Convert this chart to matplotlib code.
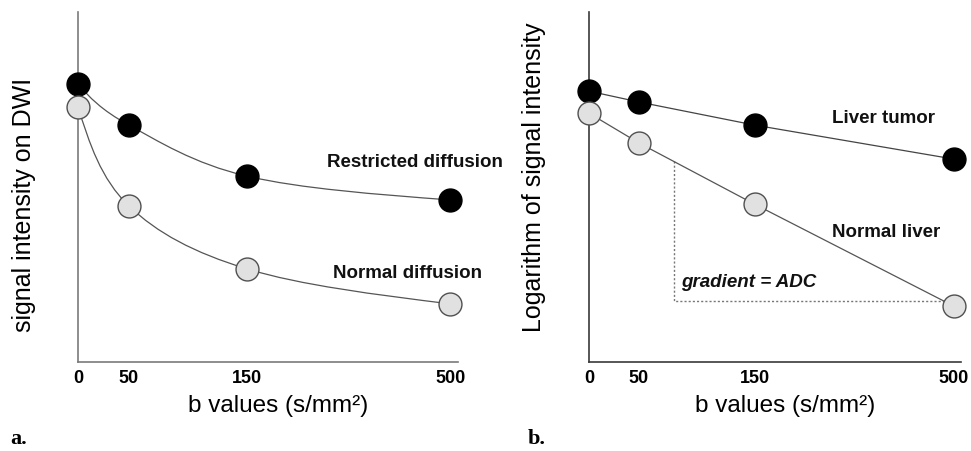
import numpy as np
import matplotlib
matplotlib.use('Agg')
import matplotlib.pyplot as plt
from matplotlib.path import Path
from matplotlib.patches import PathPatch

plt.rcParams['font.family'] = ['Liberation Sans', 'DejaVu Sans']

b_values = [0, 50, 150, 500]
b_labels = ['0', '50', '150', '500']

# a. signal intensity on DWI (arbitrary units)
restricted = [79.4, 67.7, 53.1, 46.3]
normal_diff = [72.9, 44.6, 26.6, 16.6]

# b. log of signal intensity (arbitrary units)
tumor = [77.4, 74.3, 67.7, 58.0]
normal_liver = [71.1, 62.6, 45.1, 16.0]

# corner of the dotted gradient triangle
adc_corner_b = 80

# the schematic spaces the b values unevenly
b_knots = [0, 50, 150, 500, 520]
pos_knots = [0, 0.134, 0.445, 0.98, 1.0]


def fwd(b):
    return np.interp(b, b_knots, pos_knots)


def inv(p):
    return np.interp(p, pos_knots, b_knots)


def smooth_line(ax, xs, ys, **kw):
    # Catmull-Rom style bezier through the points, built in scale space
    pts = np.column_stack([fwd(np.asarray(xs, float)), np.asarray(ys, float)])
    tang = np.zeros_like(pts)
    tang[1:-1] = (pts[2:] - pts[:-2]) / 2
    tang[0] = 1.5 * (pts[1] - pts[0]) - 0.5 * tang[1]
    tang[-1] = 1.5 * (pts[-1] - pts[-2]) - 0.5 * tang[-2]
    verts = [pts[0]]
    codes = [Path.MOVETO]
    for i in range(len(pts) - 1):
        verts += [pts[i] + tang[i] / 3, pts[i + 1] - tang[i + 1] / 3, pts[i + 1]]
        codes += [Path.CURVE4] * 3
    verts = np.array(verts)
    verts[:, 0] = inv(verts[:, 0])
    ax.add_patch(PathPatch(Path(verts, codes), fill=False, **kw))


fig = plt.figure(figsize=(9.71, 4.51), dpi=100)
ax_a = fig.add_axes([0.0803, 0.1973, 0.3914, 0.776])
ax_b = fig.add_axes([0.6066, 0.1973, 0.3831, 0.776])

for ax, spine_col in [(ax_a, '#7a7a7a'), (ax_b, '#3a3a3a')]:
    ax.set_xscale('function', functions=(fwd, inv))
    ax.set_xlim(0, 520)
    ax.set_ylim(0, 100)
    ax.spines[['top', 'right']].set_visible(False)
    for s in ['left', 'bottom']:
        ax.spines[s].set_color(spine_col)
        ax.spines[s].set_linewidth(1.2)
    ax.set_yticks([])
    ax.set_xticks(b_values, b_labels, fontweight='bold', fontsize=13)
    ax.xaxis.set_minor_locator(plt.NullLocator())
    ax.tick_params(axis='x', length=0, pad=6)
    ax.set_xlabel('b values (s/mm²)', fontsize=17.5)
    ax.xaxis.set_label_coords(0.527, -0.095)

black_kw = dict(ls='none', marker='o', ms=16.5, mfc='black', mec='black',
                clip_on=False, zorder=3)
grey_kw = dict(ls='none', marker='o', ms=16.5, mfc='#e1e1e1', mec='#505050',
               mew=1.0, clip_on=False, zorder=3)

# a.
smooth_line(ax_a, b_values, restricted, ec='#555555', lw=0.9, zorder=2)
smooth_line(ax_a, b_values, normal_diff, ec='#555555', lw=0.9, zorder=2)
ax_a.plot(b_values, restricted, **black_kw)
ax_a.plot(b_values, normal_diff, **grey_kw)
ax_a.text(0.655, 0.569, 'Restricted diffusion', transform=ax_a.transAxes,
          fontsize=13.5, fontweight='bold', va='center', color='#111111')
ax_a.text(0.671, 0.254, 'Normal diffusion', transform=ax_a.transAxes,
          fontsize=13.5, fontweight='bold', va='center', color='#111111')

# b.
ax_b.plot(b_values, tumor, color='#444444', lw=0.9, zorder=2, clip_on=False)
ax_b.plot(b_values, normal_liver, color='#555555', lw=0.9, zorder=2, clip_on=False)
ax_b.plot(b_values, tumor, **black_kw)
ax_b.plot(b_values, normal_liver, **grey_kw)

y_top = np.interp(fwd(adc_corner_b), fwd(np.array(b_values, float)), normal_liver)
ax_b.plot([adc_corner_b, adc_corner_b, b_values[-1]],
          [y_top, normal_liver[-1] + 1.4, normal_liver[-1] + 1.4],
          color='#777777', lw=1.0, ls=(0, (1.5, 1.5)), zorder=1)

ax_b.text(0.653, 0.697, 'Liver tumor', transform=ax_b.transAxes,
          fontsize=13.5, fontweight='bold', va='center', color='#111111')
ax_b.text(0.653, 0.371, 'Normal liver', transform=ax_b.transAxes,
          fontsize=13.5, fontweight='bold', va='center', color='#111111')
ax_b.text(0.247, 0.226, 'gradient = ADC', transform=ax_b.transAxes,
          fontsize=13.5, fontweight='bold', style='italic', va='center',
          color='#111111')

# y labels and panel letters
fig.text(24 / 971, 119 / 451, 'signal intensity on DWI', rotation=90,
         ha='center', va='bottom', fontsize=18)
fig.text(534 / 971, 119 / 451, 'Logarithm of signal intensity', rotation=90,
         ha='center', va='bottom', fontsize=18)
fig.text(10 / 971, 7 / 451, 'a.', family=['Liberation Serif', 'DejaVu Serif'],
         fontweight='bold', fontsize=16, va='baseline')
fig.text(528 / 971, 7 / 451, 'b.', family=['Liberation Serif', 'DejaVu Serif'],
         fontweight='bold', fontsize=16, va='baseline')

fig.savefig('out.png', dpi=100)
